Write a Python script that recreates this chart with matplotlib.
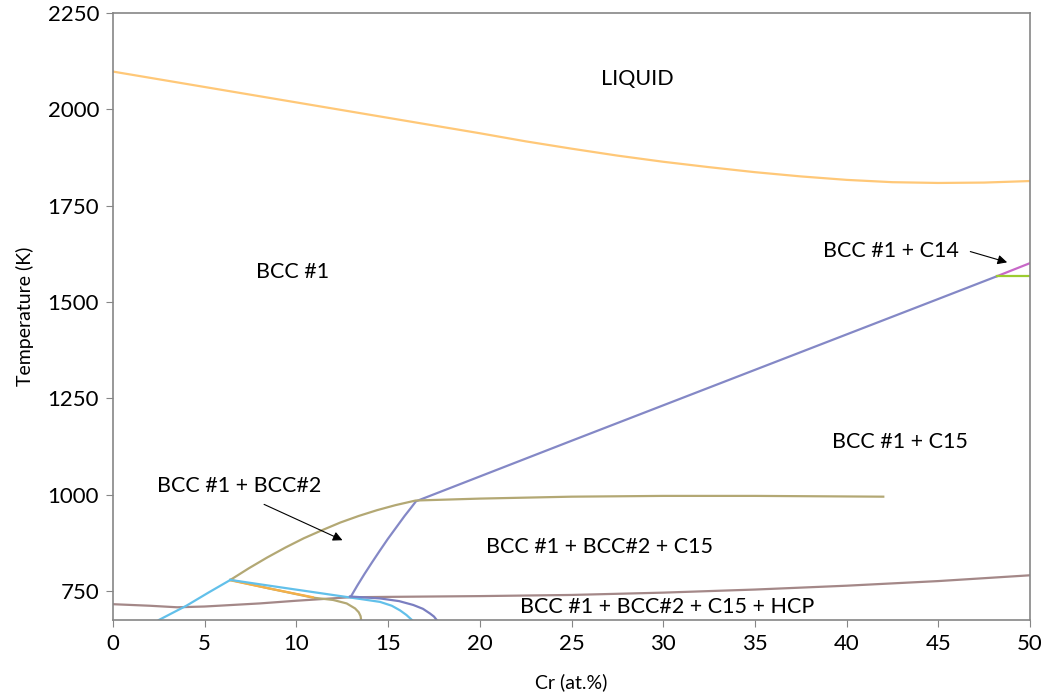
import matplotlib
matplotlib.use("Agg")
import matplotlib.pyplot as plt
import numpy as np

plt.rcParams['font.family'] = ['Lato', 'DejaVu Sans']

# Liquidus
liq_x = [0, 5, 10, 15, 20, 22.5, 25, 27.5, 30, 32.5, 35, 37.5, 40, 42.5, 45, 47.5, 50]
liq_T = [2098, 2058, 2018, 1978, 1938, 1917, 1898, 1880, 1864, 1850, 1837, 1826, 1817, 1811, 1809, 1810, 1814]

# BCC#1 / C15 boundary (purple)
c15_x = [12.96, 13.33, 13.72, 14.13, 14.55, 14.98, 15.44, 15.90, 16.23, 16.52, 25, 35, 45, 48.2]
c15_T = [735, 765, 795, 825, 855, 885, 915, 945, 965, 983, 1140, 1324, 1508, 1567]

# C14 segment (magenta)
c14_x = [48.2, 50]
c14_T = [1567, 1601]

# C14/C15 horizontal (green)
grn_x = [48.2, 50]
grn_T = [1568, 1568]

# Miscibility gap top (olive)
gap_x = [6.4, 7.4, 8.4, 9.4, 10.4, 11.4, 12.4, 13.4, 14.4, 15.4, 16.5, 20, 25, 30, 35, 42]
gap_T = [779, 809, 837, 863, 887, 908, 928, 945, 960, 973, 985, 990, 995, 997, 997, 995]

# Olive lower curve
olv_x = [6.4, 8.5, 10.9, 12.0, 12.74, 13.2, 13.4, 13.5, 13.53]
olv_T = [779, 757, 733, 727, 718, 705, 695, 685, 675]

# Orange segment
org_x = [6.4, 8.5, 10.9]
org_T = [778, 757, 734]

# Cyan
cyn1_x = [2.5, 4.0, 5.2, 6.4]
cyn1_T = [675, 712, 746, 779]
cyn2_x = [6.4, 9.1, 12.7, 14.56, 15.2, 15.65, 16.0, 16.3]
cyn2_T = [779, 760, 735, 722, 712, 700, 688, 675]

# Dark purple lower curve
dp_x = [12.92, 14.56, 15.6, 16.37, 16.9, 17.28, 17.5, 17.65]
dp_T = [736, 731, 724, 714, 704, 692, 684, 675]

# Brown (HCP boundary)
brn_x = [0, 2, 3.5, 5, 8, 10, 12.9, 15, 20, 25, 30, 35, 40, 45, 50]
brn_T = [716, 712, 708, 710, 718, 725, 734, 735, 737, 740, 746, 754, 764, 776, 791]

labels = ["LIQUID", "BCC #1", "BCC #1 + C14", "BCC #1 + C15", "BCC #1 + BCC#2",
          "BCC #1 + BCC#2 + C15", "BCC #1 + BCC#2 + C15 + HCP"]
label_x = [28.6, 9.8, 42.4, 42.9, 6.9, 26.5, 30.2]
label_T = [2079, 1578, 1632, 1136, 1022, 864, 708]

fig = plt.figure(figsize=(10.44, 6.96), dpi=100)
ax = fig.add_axes([113/1044, 76/696, (1030-113)/1044, (620-13)/696])

lw = 1.6
ax.plot(liq_x, liq_T, color='#FFC878', lw=lw)
ax.plot(c15_x, c15_T, color='#8488C6', lw=lw)
ax.plot(c14_x, c14_T, color='#C868C8', lw=lw)
ax.plot(grn_x, grn_T, color='#9CCC30', lw=lw)
ax.plot(brn_x, brn_T, color='#A48888', lw=lw)
ax.plot(gap_x, gap_T, color='#B3A874', lw=lw)
ax.plot(olv_x, olv_T, color='#B3A874', lw=lw)
ax.plot(org_x, org_T, color='#F5B048', lw=lw)
ax.plot(cyn1_x, cyn1_T, color='#62C0EA', lw=lw)
ax.plot(cyn2_x, cyn2_T, color='#62C0EA', lw=lw)
ax.plot(dp_x, dp_T, color='#7A7EC0', lw=lw)

for t, x, y in zip(labels, label_x, label_T):
    ax.text(x, y, t, fontsize=15.5, ha='center', va='center', color='black')

ax.annotate("", xy=(12.65, 879), xytext=(8.1, 978),
            arrowprops=dict(arrowstyle='-|>', color='black', lw=0.8, mutation_scale=14))
ax.annotate("", xy=(48.9, 1601), xytext=(46.6, 1633),
            arrowprops=dict(arrowstyle='-|>', color='black', lw=0.8, mutation_scale=14))

ax.set_xlim(0, 50)
ax.set_ylim(675, 2250)
ax.set_xticks(np.arange(0, 51, 5))
ax.set_yticks([750, 1000, 1250, 1500, 1750, 2000, 2250])
for s in ax.spines.values():
    s.set_color('#868686')
    s.set_linewidth(1.2)
ax.tick_params(direction='out', length=5, color='#868686', labelsize=16, pad=5)
ax.set_xlabel("Cr (at.%)", fontsize=14, labelpad=14)
ax.set_ylabel("Temperature (K)", fontsize=14, labelpad=10)

fig.savefig("out.png", dpi=100)
